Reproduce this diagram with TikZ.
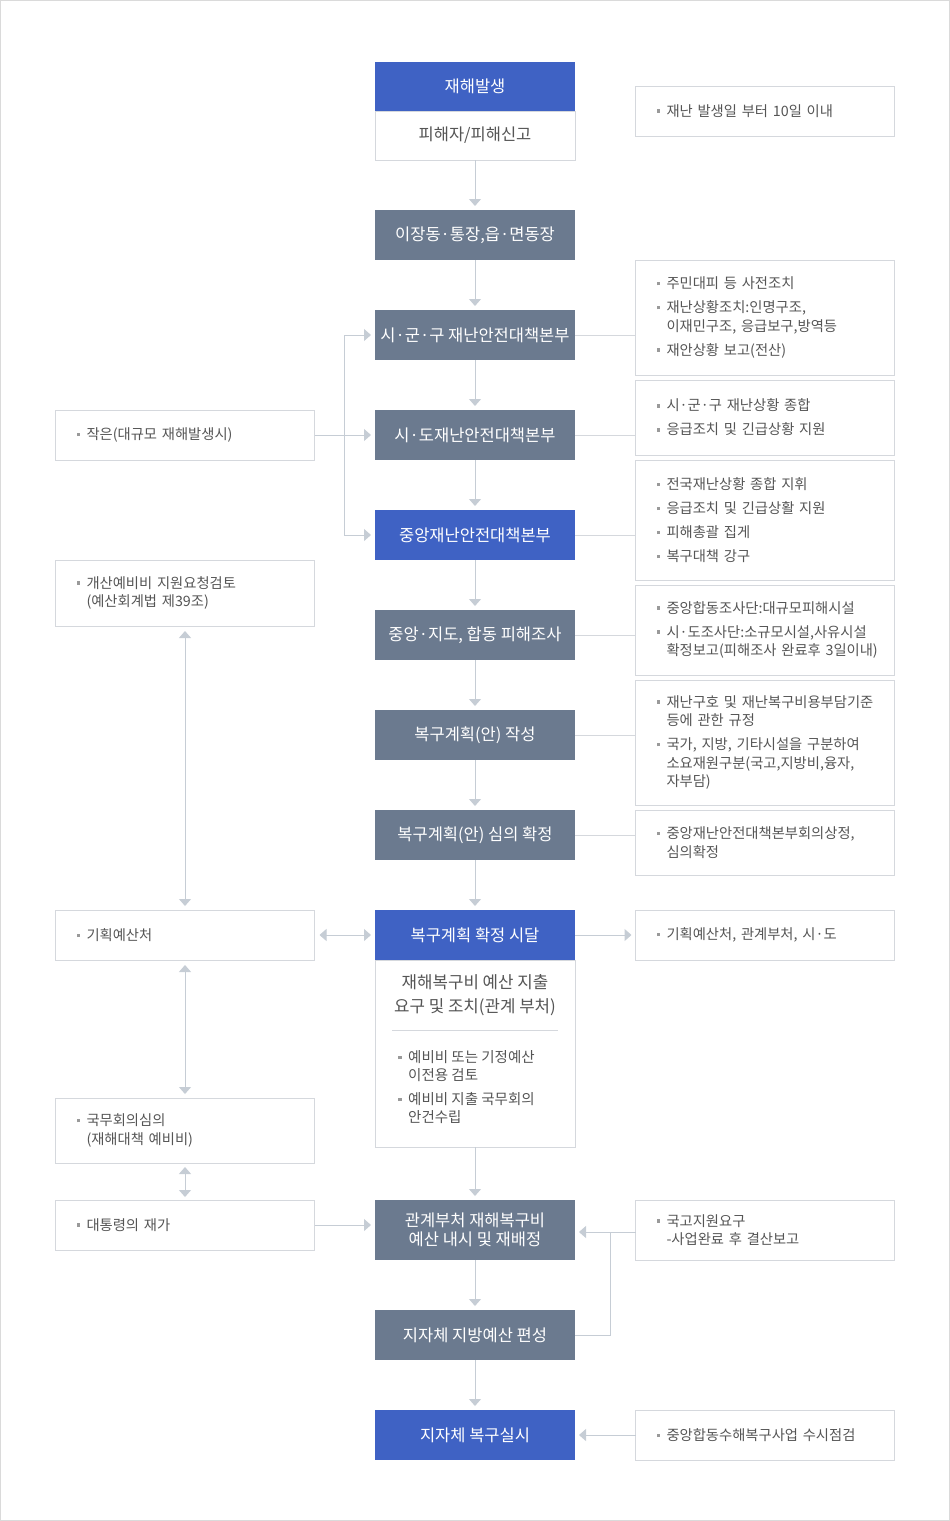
\documentclass[tikz,border=0pt]{standalone}
\usepackage{fontspec}
\setmainfont{Noto Sans CJK KR}
\usetikzlibrary{arrows.meta}
\definecolor{cblue}{HTML}{3F62C4}
\definecolor{cslate}{HTML}{6B7A8F}
\definecolor{cbord}{HTML}{D5D8DD}
\definecolor{cline}{HTML}{C6CDD5}
\definecolor{ctext}{HTML}{555555}
\definecolor{cbul}{HTML}{9A9A9A}
\definecolor{cframe}{HTML}{DADADA}
\newcommand{\bitem}[1]{\makebox[10pt][l]{\textcolor{cbul}{\rule[3.4pt]{3.5pt}{3.5pt}}}\mbox{#1}}
\newcommand{\cont}[1]{\hspace*{10pt}\mbox{#1}}
\tikzset{
  cbox/.style={rectangle, minimum width=200pt, minimum height=50pt, inner sep=0pt, outer sep=0pt,
    text=white, font=\fontsize{16.5}{19.5}\selectfont, align=center},
  bluebox/.style={cbox, fill=cblue},
  slatebox/.style={cbox, fill=cslate},
  whitebox/.style={cbox, draw=cbord, line width=1pt, fill=white, text=ctext},
  note/.style={rectangle, draw=cbord, line width=1pt, fill=white, minimum width=259pt, text width=217pt,
    inner xsep=21pt, inner ysep=0pt, outer sep=0pt, align=left, text=ctext,
    font=\fontsize{14.3}{18.5}\selectfont},
  arr/.style={draw=cline, line width=1pt, -{Triangle[length=7pt,width=12pt]}, shorten >=4pt},
  darr/.style={draw=cline, line width=1pt, {Triangle[length=7pt,width=12pt]}-{Triangle[length=7pt,width=12pt]},
    shorten >=4pt, shorten <=5pt},
  lline/.style={draw=cline, line width=1pt},
  link/.style={draw=cbord, line width=1pt}
}
\begin{document}
\begin{tikzpicture}[x=1pt, y=-1pt]
\useasboundingbox (0,0) rectangle (950,1521);
\draw[cframe, line width=1pt] (0.5,0.5) rectangle (949.5,1520.5);

% central column
\node[whitebox, minimum height=49pt] (sub1) at (475,135.5) {피해자/피해신고};
\node[bluebox, minimum height=49pt] (head1) at (475,86.5) {재해발생};
\node[slatebox] (n2) at (475,235) {이장동·통장,읍·면동장};
\node[slatebox] (n3) at (475,335) {시·군·구 재난안전대책본부};
\node[slatebox] (n4) at (475,435) {시·도재난안전대책본부};
\node[bluebox] (n5) at (475,535) {중앙재난안전대책본부};
\node[slatebox] (n6) at (475,635) {중앙·지도, 합동 피해조사};
\node[slatebox] (n7) at (475,735) {복구계획(안) 작성};
\node[slatebox] (n8) at (475,835) {복구계획(안) 심의 확정};
\node[whitebox, minimum height=187pt] (body9) at (475,1053.5) {};
\node[bluebox] (head9) at (475,935) {복구계획 확정 시달};
\node[align=center, text=ctext, inner sep=0pt, font=\fontsize{16.8}{23.5}\selectfont] (t9) at (475,995) {재해복구비 예산 지출\\요구 및 조치(관계 부처)};
\draw[link] (392,1030) -- (558,1030);
\node[anchor=west, align=left, text=ctext, inner sep=0pt, font=\fontsize{14.5}{18}\selectfont] (b9) at (398,1087)
  {\bitem{예비비 또는 기정예산}\\\cont{이전용 검토}\\[6pt]\bitem{예비비 지출 국무회의}\\\cont{안건수립}};
\node[slatebox, minimum height=60pt] (n10) at (475,1230) {관계부처 재해복구비\\예산 내시 및 재배정};
\node[slatebox] (n11) at (475,1335) {지자체 지방예산 편성};
\node[bluebox] (n12) at (475,1435) {지자체 복구실시};

% right notes
\node[note, minimum height=50pt] (r1) at (765,111) {\bitem{재난 발생일 부터 10일 이내}};
\node[note, minimum height=115pt] (r2) at (765,317.5) {\bitem{주민대피 등 사전조치}\\[5.5pt]\bitem{재난상황조치:인명구조,}\\\cont{이재민구조, 응급보구,방역등}\\[5.5pt]\bitem{재안상황 보고(전산)}};
\node[note, minimum height=75pt] (r3) at (765,417.5) {\bitem{시·군·구 재난상황 종합}\\[5.5pt]\bitem{응급조치 및 긴급상황 지원}};
\node[note, minimum height=120pt] (r4) at (765,520) {\bitem{전국재난상황 종합 지휘}\\[5.5pt]\bitem{응급조치 및 긴급상활 지원}\\[5.5pt]\bitem{피해총괄 집게}\\[5.5pt]\bitem{복구대책 강구}};
\node[note, minimum height=90pt] (r5) at (765,630) {\bitem{중앙합동조사단:대규모피해시설}\\[5.5pt]\bitem{시·도조사단:소규모시설,사유시설}\\\cont{확정보고(피해조사 완료후 3일이내)}};
\node[note, minimum height=125pt] (r6) at (765,742.5) {\bitem{재난구호 및 재난복구비용부담기준}\\\cont{등에 관한 규정}\\[5.5pt]\bitem{국가, 지방, 기타시설을 구분하여}\\\cont{소요재원구분(국고,지방비,융자,}\\\cont{자부담)}};
\node[note, minimum height=65pt] (r7) at (765,842.5) {\bitem{중앙재난안전대책본부회의상정,}\\\cont{심의확정}};
\node[note, minimum height=50pt] (r8) at (765,935) {\bitem{기획예산처, 관계부처, 시·도}};
\node[note, minimum height=60pt] (r9) at (765,1230) {\bitem{국고지원요구}\\\cont{-사업완료 후 결산보고}};
\node[note, minimum height=50pt] (r10) at (765,1435) {\bitem{중앙합동수해복구사업 수시점검}};

% left notes
\node[note, minimum height=50pt] (l1) at (185,435) {\bitem{작은(대규모 재해발생시)}};
\node[note, minimum height=66pt] (l2) at (185,593) {\bitem{개산예비비 지원요청검토}\\\cont{(예산회계법 제39조)}};
\node[note, minimum height=50pt] (l3) at (185,935) {\bitem{기획예산처}};
\node[note, minimum height=65pt] (l4) at (185,1130.5) {\bitem{국무회의심의}\\\cont{(재해대책 예비비)}};
\node[note, minimum height=50pt] (l5) at (185,1225) {\bitem{대통령의 재가}};

% central arrows
\draw[arr] (sub1.south) -- (n2.north);
\draw[arr] (n2.south) -- (n3.north);
\draw[arr] (n3.south) -- (n4.north);
\draw[arr] (n4.south) -- (n5.north);
\draw[arr] (n5.south) -- (n6.north);
\draw[arr] (n6.south) -- (n7.north);
\draw[arr] (n7.south) -- (n8.north);
\draw[arr] (n8.south) -- (head9.north);
\draw[arr] (body9.south) -- (n10.north);
\draw[arr] (n10.south) -- (n11.north);
\draw[arr] (n11.south) -- (n12.north);

% right links
\draw[link] (n3.east) -- (r2.west |- n3.east);
\draw[link] (n4.east) -- (r3.west |- n4.east);
\draw[link] (n5.east) -- (r4.west |- n5.east);
\draw[link] (n6.east) -- (r5.west |- n6.east);
\draw[link] (n7.east) -- (r6.west |- n7.east);
\draw[link] (n8.east) -- (r7.west |- n8.east);
\draw[arr] (head9.east) -- (r8.west);
\coordinate (c9) at (610,1232);
\draw[lline] (n11.east) -| (c9);
\draw[arr] (r9.west |- c9) -- (n10.east |- c9);
\draw[arr] (r10.west) -- (n12.east);

% left links
\coordinate (j1) at (344,335);
\coordinate (j2) at (344,535);
\draw[lline] (j1) -- (j2);
\draw[arr] (j1) -- (n3.west);
\draw[arr] (j2) -- (n5.west);
\draw[arr] (l1.east) -- (n4.west);
\draw[darr] (l2.south) -- (l3.north);
\draw[darr] (l3.east) -- (head9.west);
\draw[darr] (l3.south) -- (l4.north);
\draw[darr, shorten <=4pt, shorten >=3pt] (l4.south) -- (l5.north);
\draw[arr] (l5.east) -- (n10.west |- l5.east);
\end{tikzpicture}
\end{document}
